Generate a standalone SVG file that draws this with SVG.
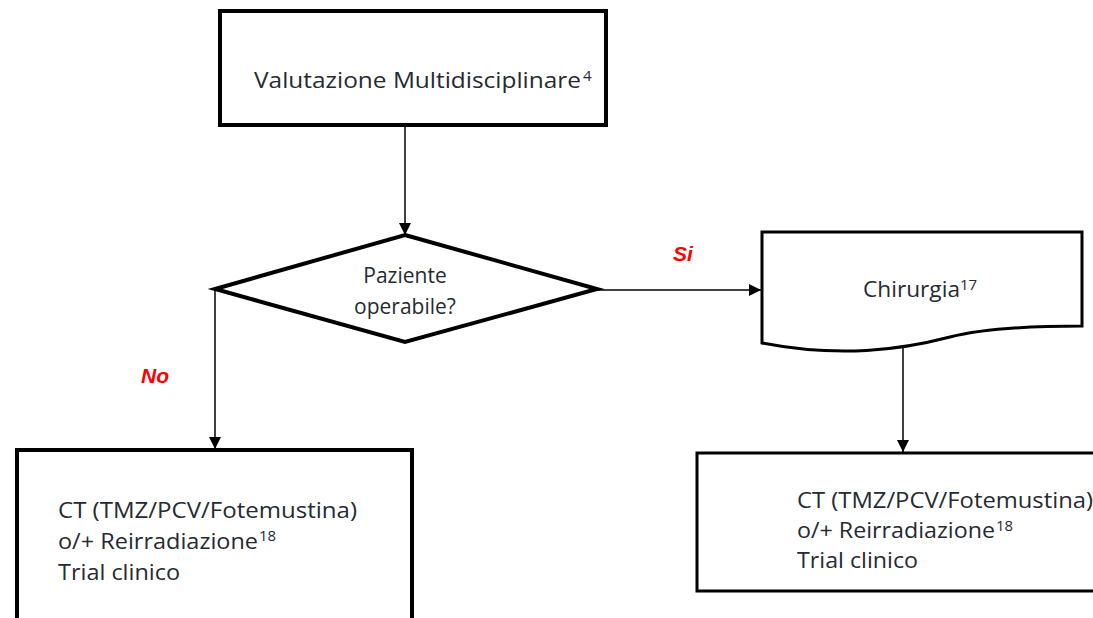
<svg xmlns="http://www.w3.org/2000/svg" width="1093" height="618" viewBox="0 0 1093 618">
<style>
.box{fill:#fff;stroke:#000;stroke-linejoin:miter}
.t{font-family:"Open Sans","Liberation Sans",sans-serif;font-size:21px;fill:#262a32}
.sup{font-family:"Open Sans","Liberation Sans",sans-serif;font-size:15px;fill:#262a32}
.lbl{font-family:"Liberation Sans",Arial,sans-serif;font-size:21px;font-weight:bold;font-style:italic;fill:#ff0000}
.c{stroke:#000;stroke-width:1.5;fill:none;marker-end:url(#ah)}
</style>
<defs>
<marker id="ah" viewBox="0 0 10 10" refX="10" refY="5" markerWidth="12" markerHeight="12" markerUnits="userSpaceOnUse" orient="auto">
<path d="M0,0 L10,5 L0,10 Z" fill="#000"/>
</marker>
</defs>
<rect width="1093" height="618" fill="#fff"/>
<g id="connectors">
<line class="c" x1="405" y1="125" x2="405" y2="235"/>
<line class="c" x1="597" y1="290" x2="761" y2="290"/>
<line class="c" x1="215" y1="289" x2="215" y2="449"/>
<line class="c" x1="903" y1="347" x2="903" y2="452"/>
</g>
<g id="valutazione">
<rect class="box" x="220" y="11" width="386" height="114" stroke-width="4"/>
<text class="t" x="254" y="88" textLength="327" lengthAdjust="spacingAndGlyphs">Valutazione Multidisciplinare</text>
<text class="sup" x="583" y="81">4</text>
</g>
<g id="decisione">
<polygon class="box" points="405,235 597,289 405,342 215,289" stroke-width="4"/>
<text class="t" x="405" y="283" text-anchor="middle">Paziente</text>
<text class="t" x="405" y="314" text-anchor="middle">operabile?</text>
</g>
<g id="chirurgia">
<path class="box" d="M762,232 L1082,232 L1082,326 C1030,326 985,328 950,337 C900,350 840,358 762,343 Z" stroke-width="3"/>
<text class="t" x="863" y="297" textLength="97" lengthAdjust="spacingAndGlyphs">Chirurgia</text>
<text class="sup" x="960" y="290">17</text>
</g>
<g id="ct-no">
<rect class="box" x="17" y="450" width="395" height="190" stroke-width="4"/>
<text class="t" x="58" y="518" textLength="299" lengthAdjust="spacingAndGlyphs">CT (TMZ/PCV/Fotemustina)</text>
<text class="t" x="58" y="549" textLength="200" lengthAdjust="spacingAndGlyphs">o/+ Reirradiazione</text>
<text class="sup" x="259" y="541">18</text>
<text class="t" x="58" y="580" textLength="122" lengthAdjust="spacingAndGlyphs">Trial clinico</text>
</g>
<g id="ct-si">
<rect class="box" x="697" y="453" width="410" height="138" stroke-width="3"/>
<text class="t" x="797" y="508" textLength="296" lengthAdjust="spacingAndGlyphs">CT (TMZ/PCV/Fotemustina)</text>
<text class="t" x="797" y="538" textLength="198" lengthAdjust="spacingAndGlyphs">o/+ Reirradiazione</text>
<text class="sup" x="996" y="531">18</text>
<text class="t" x="797" y="568" textLength="121" lengthAdjust="spacingAndGlyphs">Trial clinico</text>
</g>
<g id="labels">
<text class="lbl" x="673" y="261">Si</text>
<text class="lbl" x="141" y="383">No</text>
</g>
</svg>
